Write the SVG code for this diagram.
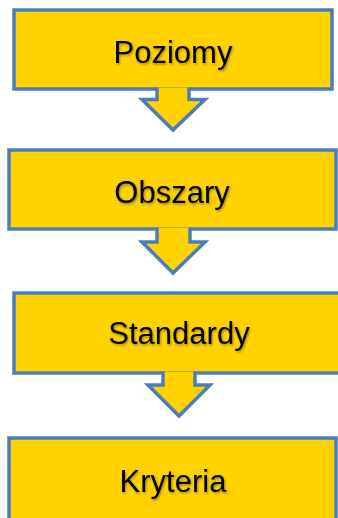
<svg xmlns="http://www.w3.org/2000/svg" width="338" height="518" viewBox="0 0 338 518">
<defs>
<style>
.box{fill:#FFD200;stroke:#4A7EBB;stroke-width:3.5}
.arr{fill:#FFD200;stroke:#4A7EBB;stroke-width:3.5;stroke-linejoin:miter}
.lbl{font-family:"Liberation Sans","Open Sans",Arial,sans-serif;font-size:31px;fill:#000;text-anchor:middle;filter:url(#sh)}
</style>
<filter id="sh" x="-10%" y="-20%" width="130%" height="150%">
<feDropShadow dx="1" dy="1.5" stdDeviation="0.8" flood-color="#000" flood-opacity="0.35"/>
</filter>
</defs>
<rect width="338" height="518" fill="#fff"/>
<g id="node-poziomy">
<rect class="box" x="14" y="10" width="318" height="79"/>
<text class="lbl" x="173" y="63">Poziomy</text>
</g>
<g id="node-obszary">
<rect class="box" x="9" y="150" width="327" height="79"/>
<text class="lbl" x="172" y="203">Obszary</text>
</g>
<g id="node-standardy">
<rect class="box" x="14" y="293" width="330" height="80"/>
<text class="lbl" x="179" y="344">Standardy</text>
</g>
<g id="node-kryteria">
<rect class="box" x="9" y="438" width="327" height="90"/>
<text class="lbl" x="173" y="492">Kryteria</text>
</g>
<g id="connectors">
<path class="arr" d="M157,87.5 V99.5 H142 L173,130 L205,99.5 H189 V87.5"/>
<path class="arr" d="M157,227.5 V242 H142 L173,273 L205,242 H190 V227.5"/>
<path class="arr" d="M163,371.5 V385 H148 L179,416 L210,385 H195 V371.5"/>
</g>
</svg>
